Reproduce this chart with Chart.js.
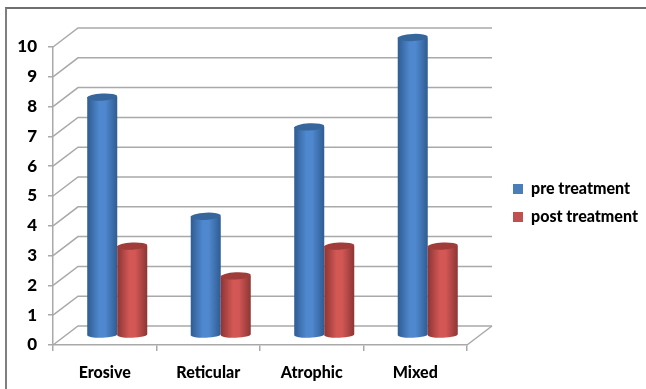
<!DOCTYPE html>
<html>
<head>
<meta charset="utf-8">
<title>Treatment chart</title>
<script src="https://cdn.jsdelivr.net/npm/chart.js@4"></script>
<style>
    html, body { margin: 0; padding: 0; background: #fff; overflow: hidden; }
    #frame { position: absolute; left: 5px; top: 7px; width: 641px; height: 382px; box-sizing: border-box;
             border-left: 2px solid #7f7f7f; border-top: 2px solid #6f6f6f; }
    #wrap { position: absolute; left: 0; top: 0; width: 646px; height: 389px; }
    #barChart { filter: blur(0.4px); }
</style>
</head>
<body>
<div id="frame"></div>
<div id="wrap"><canvas id="barChart" width="646" height="389"></canvas></div>
<script>
const categories = ['Erosive', 'Reticular', 'Atrophic', 'Mixed'];
const preTreatment = [8, 4, 7, 10];
const postTreatment = [3, 2, 3, 3];

const gridColor = '#a9a9a9';
const depthX = 25;
const depthY = -19;
const labelFont = { family: 'Lato', size: 16, weight: '900' };

// Back wall, left wall and floor of the fake 3D box
const wallsPlugin = {
    id: 'walls',
    beforeDatasetsDraw(chart) {
        const { ctx, chartArea, scales } = chart;
        ctx.save();
        ctx.strokeStyle = gridColor;
        ctx.lineWidth = 1.5;
        scales.y.ticks.forEach(tick => {
            const y = scales.y.getPixelForValue(tick.value);
            ctx.beginPath();
            ctx.moveTo(chartArea.left, y);
            ctx.lineTo(chartArea.left + depthX, y + depthY);
            ctx.lineTo(chartArea.right + depthX, y + depthY);
            ctx.stroke();
        });
        const floor = scales.y.getPixelForValue(0);
        ctx.beginPath();
        ctx.moveTo(chartArea.right, floor);
        ctx.lineTo(chartArea.right + depthX, floor + depthY);
        ctx.stroke();
        ctx.restore();
    }
};

function drawCylinder(ctx, bar, shades) {
    const left = bar.x - bar.width / 2 + depthX / 2;
    const right = left + bar.width;
    const mid = (left + right) / 2;
    const top = bar.y + depthY / 2;
    const base = bar.base + depthY / 2;
    const rx = bar.width / 2;
    const ry = 3.6;

    const grad = ctx.createLinearGradient(left, 0, right, 0);
    grad.addColorStop(0, shades[0]);
    grad.addColorStop(0.4, shades[1]);
    grad.addColorStop(0.6, shades[1]);
    grad.addColorStop(1, shades[0]);

    ctx.save();
    ctx.fillStyle = grad;
    ctx.beginPath();
    ctx.moveTo(left, top);
    ctx.lineTo(left, base);
    ctx.ellipse(mid, base, rx, ry - 0.6, -0.04, Math.PI, 0, true);
    ctx.lineTo(right, top);
    ctx.closePath();
    ctx.fill();

    ctx.fillStyle = shades[2];
    ctx.beginPath();
    ctx.ellipse(mid, top, rx, ry, -0.05, 0, Math.PI * 2);
    ctx.fill();
    ctx.restore();
}

// Bars are drawn as cylinders, first series first so the second overlaps it
const cylinderPlugin = {
    id: 'cylinders',
    beforeDatasetDraw() {
        return false;
    },
    afterDatasetsDraw(chart) {
        chart.data.datasets.forEach((dataset, i) => {
            chart.getDatasetMeta(i).data.forEach(bar => {
                drawCylinder(chart.ctx, bar, dataset.shades);
            });
        });
    }
};

// Legend sits in the white space right of the box
const legendPlacePlugin = {
    id: 'legendPlace',
    afterLayout(chart) {
        const legend = chart.legend;
        legend.left = 501;
        legend.right = legend.left + legend.width;
        legend.top = 169;
        legend.bottom = legend.top + legend.height;
        legend.adjustHitBoxes();
    }
};

new Chart(document.getElementById('barChart'), {
    type: 'bar',
    data: {
        labels: categories,
        datasets: [
            {
                label: 'pre treatment',
                data: preTreatment,
                backgroundColor: '#4a7ebb',
                shades: ['#2f5c92', '#4f88ce', '#37669c']
            },
            {
                label: 'post treatment',
                data: postTreatment,
                backgroundColor: '#c0504d',
                shades: ['#8c3634', '#d25755', '#a03c3a']
            }
        ]
    },
    options: {
        responsive: false,
        animation: false,
        layout: { padding: { top: 47, right: 179, bottom: 0, left: 0 } },
        categoryPercentage: 0.58,
        barPercentage: 1,
        scales: {
            x: {
                afterFit(scale) { scale.height = 44; },
                grid: { drawOnChartArea: false, color: gridColor, lineWidth: 1.5, tickLength: 6 },
                border: { color: gridColor, width: 1.5 },
                ticks: { color: '#000', font: labelFont, padding: 12, maxRotation: 0 }
            },
            y: {
                min: 0,
                max: 10,
                afterFit(scale) { scale.width = 53; },
                grid: { drawOnChartArea: false, color: gridColor, lineWidth: 1.5, tickLength: 5 },
                border: { color: gridColor, width: 1.5 },
                ticks: { stepSize: 1, color: '#000', font: { family: 'Lato', size: 17, weight: '900' }, padding: 11 }
            }
        },
        plugins: {
            tooltip: { enabled: false },
            legend: {
                position: 'chartArea',
                align: 'start',
                labels: {
                    boxWidth: 10,
                    boxHeight: 10,
                    color: '#000',
                    padding: 12,
                    font: labelFont
                }
            }
        }
    },
    plugins: [wallsPlugin, cylinderPlugin, legendPlacePlugin]
});
</script>
</body>
</html>
